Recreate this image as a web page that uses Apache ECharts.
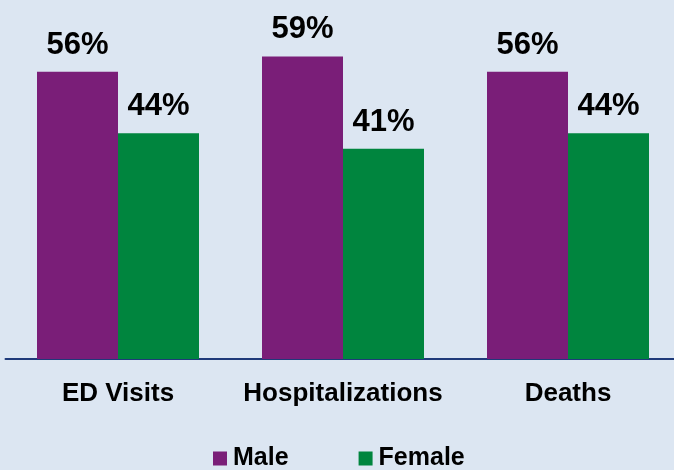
<!DOCTYPE html>
<html><head><meta charset="utf-8">
<script src="https://cdn.jsdelivr.net/npm/echarts@6/dist/echarts.min.js"></script>
<style>html,body{margin:0;padding:0;background:#dce6f2;overflow:hidden;width:674px;height:470px}#c{width:681px;height:470px}</style>
</head><body><div id="c"></div>
<script>
const categories = ['ED Visits', 'Hospitalizations', 'Deaths'];
const maleValues = [56, 59, 56];
const femaleValues = [44, 41, 44];
const seriesNames = ['Male', 'Female'];

const chart = echarts.init(document.getElementById('c'));
const font = 'Liberation Sans, Arial, sans-serif';
chart.setOption({
  backgroundColor: '#dce6f2',
  animation: false,
  grid: { left: 5.5, right: 0.5, top: -2, height: 361 },
  legend: {
    data: seriesNames, left: 208, top: 441, itemWidth: 14, itemHeight: 14, itemGap: 70,
    icon: 'rect',
    textStyle: { fontFamily: font, fontWeight: 'bold', fontSize: 25, color: '#000', padding: [0, 0, 0, 1] }
  },
  xAxis: {
    type: 'category', data: categories,
    axisLine: { lineStyle: { color: '#1f3a7a', width: 2 } },
    axisTick: { show: false },
    axisLabel: { interval: 0, fontFamily: font, fontWeight: 'bold', fontSize: 26, color: '#000', margin: 22 }
  },
  yAxis: { type: 'value', min: 0, max: 70, show: false, splitLine: { show: false } },
  series: [
    { name: seriesNames[0], type: 'bar', data: maleValues, barWidth: 81, barGap: '0%',
      itemStyle: { color: '#7a1e78' },
      label: { show: true, position: 'top', distance: 11, formatter: '{c}%', fontFamily: font, fontWeight: 'bold', fontSize: 31, color: '#000' } },
    { name: seriesNames[1], type: 'bar', data: femaleValues, barWidth: 81,
      itemStyle: { color: '#00853e' },
      label: { show: true, position: 'top', distance: 11, formatter: '{c}%', fontFamily: font, fontWeight: 'bold', fontSize: 31, color: '#000' } }
  ]
});
</script></body></html>
